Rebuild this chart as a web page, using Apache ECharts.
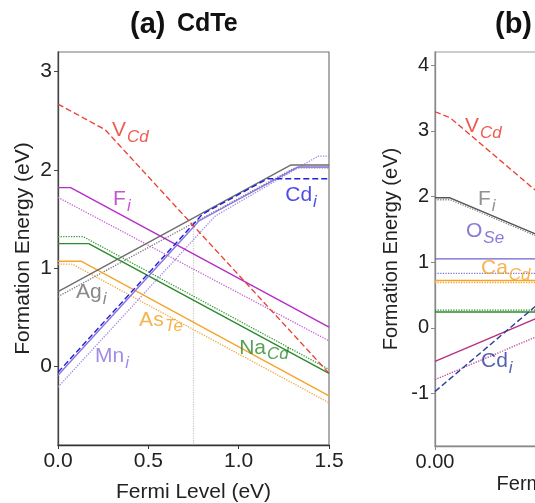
<!DOCTYPE html>
<html>
<head>
<meta charset="utf-8">
<script src="https://cdn.jsdelivr.net/npm/echarts@6/dist/echarts.min.js"></script>
<style>
  html, body { margin: 0; padding: 0; background: #fff; }
  #chart { width: 535px; height: 503px; }
</style>
</head>
<body>
<div id="chart"></div>
<script>
// ---- Panel (a): CdTe, formation energy (eV) vs Fermi level (eV) ----
const xTicksA = [0, 0.5, 1.0, 1.5];
const yTicksA = [0, 1, 2, 3];
const vCdA     = [[0, 2.67], [0.26, 2.41], [1.5, -0.07]];
const fiA      = [[0, 1.82], [0.07, 1.82], [1.5, 0.40]];
const fiDotA   = [[0, 1.72], [1.5, 0.26]];
const naCdA    = [[0, 1.25], [0.17, 1.25], [1.5, -0.07]];
const naCdDotA = [[0, 1.32], [0.14, 1.32], [1.5, -0.03]];
const asTeA    = [[0, 1.07], [0.13, 1.07], [1.5, -0.30]];
const asTeDotA = [[0, 1.04], [0.08, 1.04], [1.5, -0.37]];
const agiA     = [[0, 0.76], [1.29, 2.05], [1.5, 2.05]];
const agiDotA  = [[0, 0.71], [1.31, 2.02], [1.5, 2.02]];
const cdiA     = [[0, -0.06], [0.80, 1.55], [1.16, 1.91], [1.5, 1.91]];
const mniA     = [[0, -0.09], [0.78, 1.48], [1.33, 2.03], [1.5, 2.03]];
const mniDotA  = [[0, -0.21], [0.87, 1.53], [1.44, 2.14], [1.5, 2.14]];
const pinA     = [[0.75, 1.45], [0.75, -0.8]];

// ---- Panel (b) ----
const xTicksB = [0, 1.0];
const yTicksB = [-1, 0, 1, 2, 3, 4];
const vCdB       = [[0, 3.29], [0.097, 3.20], [0.7, 1.99]];
const fiB        = [[0, 1.98], [0.097, 1.98], [0.7, 1.38]];
const fiDotB     = [[0, 1.95], [0.10, 1.95], [0.7, 1.35]];
const oSeB       = [[0, 1.05], [0.7, 1.05]];
const oSeDotB    = [[0, 0.83], [0.7, 0.83]];
const caCdB      = [[0, 0.72], [0.7, 0.72]];
const caCdDotB   = [[0, 0.69], [0.7, 0.69]];
const greenB     = [[0, 0.24], [0.7, 0.24]];
const greenDotB  = [[0, 0.27], [0.7, 0.27]];
const magentaB   = [[0, -0.51], [0.7, 0.19]];
const magentaDotB= [[0, -0.79], [0.7, -0.09]];
const cdiB       = [[0, -0.97], [0.7, 0.43]];

const FONT = '"Liberation Sans", Arial, Helvetica, sans-serif';

function seg(g, data, color, type, width, z) {
  return {
    type: 'line', xAxisIndex: g, yAxisIndex: g, data: data,
    symbol: 'none', silent: true, animation: false, z: z || 2,
    lineStyle: { color: color, width: width || 1.3, type: type || 'solid' }
  };
}

function tags(g, list) {
  return {
    type: 'scatter', xAxisIndex: g, yAxisIndex: g, symbolSize: 0, silent: true,
    animation: false, z: 10,
    data: list.map(t => ({
      value: t.at,
      label: {
        show: true, position: 'right', distance: 0,
        formatter: '{m|' + t.m + '}{s|' + t.s + '}',
        rich: {
          m: { fontFamily: FONT, fontSize: t.size || 21, color: t.c, lineHeight: 24, verticalAlign: 'top' },
          s: { fontFamily: FONT, fontSize: 17, fontStyle: 'italic', color: t.c, lineHeight: 20,
               padding: [9, 0, 0, 1], verticalAlign: 'top' }
        }
      }
    }))
  };
}

function xAxisCfg(g, min, max, ticks, digits, fs, gap, lineColor) {
  return {
    type: 'value', gridIndex: g, min: min, max: max,
    name: 'Fermi Level (eV)', nameLocation: 'middle', nameGap: gap, nameMoveOverlap: false,
    nameTextStyle: { fontFamily: FONT, fontSize: fs, color: '#222' },
    axisLine: { show: true, onZero: false, lineStyle: { color: lineColor, width: 1.3 } },
    axisTick: { show: true, length: 4, inside: false, customValues: ticks, lineStyle: { color: lineColor } },
    axisLabel: { customValues: ticks, fontFamily: FONT, fontSize: fs, color: '#222', margin: 6,
                 formatter: v => v.toFixed(digits) },
    splitLine: { show: false }
  };
}

function yAxisCfg(g, min, max, ticks, fs, gap, lineColor) {
  return {
    type: 'value', gridIndex: g, min: min, max: max,
    name: 'Formation Energy (eV)', nameLocation: 'middle', nameGap: gap, nameMoveOverlap: false,
    nameTextStyle: { fontFamily: FONT, fontSize: fs, color: '#222' },
    axisLine: { show: true, onZero: false, lineStyle: { color: lineColor, width: 1.3 } },
    axisTick: { show: true, length: 4, inside: false, customValues: ticks, lineStyle: { color: lineColor } },
    axisLabel: { customValues: ticks, fontFamily: FONT, fontSize: fs, color: '#222', margin: 6,
                 formatter: v => String(v) },
    splitLine: { show: false }
  };
}

const chart = echarts.init(document.getElementById('chart'), null, { renderer: 'canvas' });

chart.setOption({
  animation: false,
  backgroundColor: '#fff',
  graphic: [
    { type: 'text', left: 130, top: 10, silent: true,
      style: { text: '(a)', font: 'bold 29px ' + FONT, fill: '#111' } },
    { type: 'text', left: 177, top: 12, silent: true,
      style: { text: 'CdTe', font: 'bold 25px ' + FONT, fill: '#111' } },
    { type: 'text', left: 495, top: 10, silent: true,
      style: { text: '(b)', font: 'bold 29px ' + FONT, fill: '#111' } }
  ],
  grid: [
    { left: 58, top: 52, width: 271, height: 393, show: true, borderColor: '#777', borderWidth: 1.2,
      containLabel: false, outerBoundsMode: 'none' },
    { left: 435, top: 52, width: 271, height: 394, show: true, borderColor: '#999', borderWidth: 1.2,
      containLabel: false, outerBoundsMode: 'none' }
  ],
  xAxis: [
    xAxisCfg(0, 0, 1.5, xTicksA, 1, 21, 37, '#333'),
    xAxisCfg(1, 0, 1.75, xTicksB, 2, 20, 28, '#888')
  ],
  yAxis: [
    yAxisCfg(0, -0.8, 3.2, yTicksA, 21, 24, '#444'),
    yAxisCfg(1, -1.8, 4.2, yTicksB, 20, 34, '#888')
  ],
  series: [
    // panel (a)
    seg(0, pinA, '#c8c8c8', 'dotted', 1.2, 1),
    seg(0, fiDotA, '#c462d6', 'dotted', 1.3),
    seg(0, naCdDotA, '#3d9a3d', 'dotted', 1.3),
    seg(0, asTeDotA, '#f2a93b', 'dotted', 1.3),
    seg(0, agiDotA, '#7a7a7a', 'dotted', 1.3),
    seg(0, mniDotA, '#a08ae6', 'dotted', 1.3),
    seg(0, fiA, '#b52ec8', 'solid', 1.4),
    seg(0, naCdA, '#2b8a2b', 'solid', 1.4),
    seg(0, asTeA, '#f5a52a', 'solid', 1.4),
    seg(0, agiA, '#6e6e6e', 'solid', 1.4),
    seg(0, mniA, '#8a72e2', 'solid', 1.4),
    seg(0, cdiA, '#1f1fe0', [6, 3], 1.4, 3),
    seg(0, vCdA, '#ee3a2c', [6, 3], 1.3, 3),
    tags(0, [
      { m: 'V',  s: 'Cd', at: [0.299, 2.385], c: '#ea3325' },
      { m: 'F',  s: 'i',  at: [0.305, 1.69],  c: '#b82cc4' },
      { m: 'Cd', s: 'i',  at: [1.258, 1.73],  c: '#1e1ee0' },
      { m: 'Ag', s: 'i',  at: [0.10, 0.735],  c: '#6c6c6c' },
      { m: 'As', s: 'Te', at: [0.449, 0.46],  c: '#f5a020' },
      { m: 'Na', s: 'Cd', at: [1.003, 0.175], c: '#2a8a2a' },
      { m: 'Mn', s: 'i',  at: [0.205, 0.09],  c: '#8a6fe0' }
    ]),
    // panel (b)
    seg(1, fiDotB, '#8a8a8a', 'dotted', 1.3),
    seg(1, oSeDotB, '#7a78d8', 'dotted', 1.3),
    seg(1, caCdDotB, '#f5a52a', 'dotted', 1.3),
    seg(1, greenDotB, '#2b8a2b', 'dotted', 1.3),
    seg(1, magentaDotB, '#c24a9a', 'dotted', 1.3),
    seg(1, fiB, '#555555', 'solid', 1.4),
    seg(1, oSeB, '#7060cc', 'solid', 1.4),
    seg(1, caCdB, '#f5a52a', 'solid', 1.6),
    seg(1, greenB, '#2b8a2b', 'solid', 1.4),
    seg(1, magentaB, '#b8307f', 'solid', 1.4),
    seg(1, cdiB, '#2a3a9a', [6, 3], 1.4, 3),
    seg(1, vCdB, '#ee3a2c', [6, 3], 1.3, 3),
    tags(1, [
      { m: 'V',  s: 'Cd', at: [0.194, 3.05], c: '#ea3325' },
      { m: 'F',  s: 'i',  at: [0.277, 1.94], c: '#777777' },
      { m: 'O',  s: 'Se', at: [0.20, 1.45],  c: '#6a5acd' },
      { m: 'Ca', s: 'Cd', at: [0.297, 0.89], c: '#f5a020' },
      { m: 'Cd', s: 'i',  at: [0.297, -0.53], c: '#2a3a9a' }
    ])
  ]
});
</script>
</body>
</html>
